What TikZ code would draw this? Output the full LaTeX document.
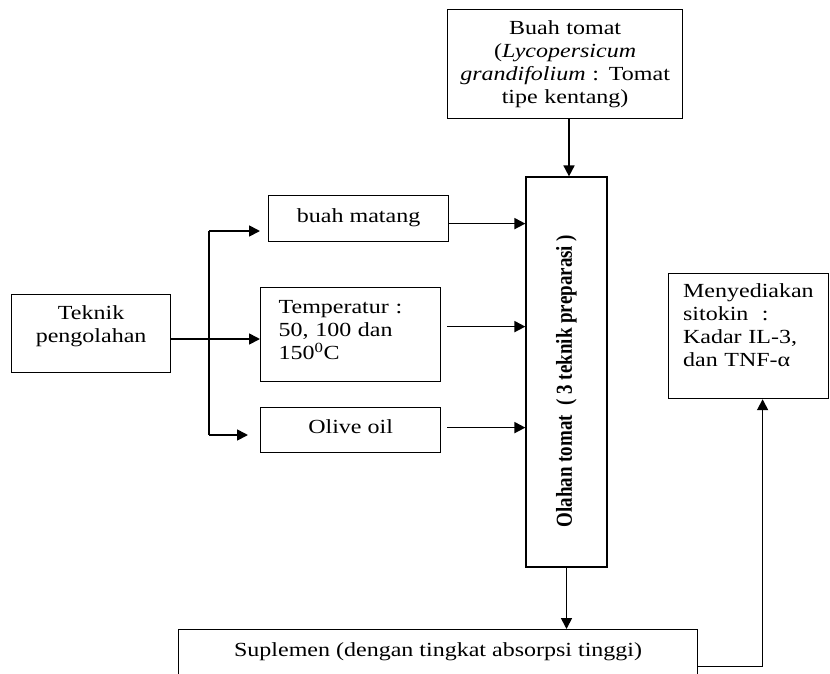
\documentclass[tikz,border=0pt]{standalone}
\usepackage{fontspec}
\setmainfont{Liberation Serif}[FakeStretch=1.2]
\newfontfamily\rotfont{Liberation Serif}
\usetikzlibrary{arrows.meta}

\begin{document}
\begin{tikzpicture}[x=1pt,y=-1pt,
    kotak/.style ={draw, line width=1.2pt, anchor=north west, inner ysep=0pt,
                   font=\fontsize{20}{23}\selectfont},
    panah/.style ={line width=1.7pt, -{Triangle[length=11pt,width=11pt]}}]
   \useasboundingbox (0,0) rectangle (830,673);
   % kotak-kotak
   \node[kotak, text width=225pt, inner xsep=5pt, align=center,
         text height=25pt, text depth=84pt] (tomat) at (447,9)
         {Buah tomat\\(\textit{Lycopersicum}\\\textit{grandifolium} : Tomat\\tipe kentang)};
   \node[kotak, anchor=center, minimum width=81pt, minimum height=390pt] (olahan) at (566.5,372)
         {\rotatebox{90}{\scalebox{1}[1.2]{\fontsize{19}{23}\rotfont\bfseries
          Olahan tomat~~( 3 teknik preparasi )\hspace*{18pt}}}};
   \node[kotak, minimum width=180pt, text height=27pt, text depth=19pt] (matang) at (268,195) {buah matang};
   \node[kotak, text width=144pt, inner xsep=18pt, align=left,
         text height=26pt, text depth=68pt] (temp) at (260,287)
         {Temperatur :\\50, 100 dan\\150\textsuperscript{0}C};
   \node[kotak, minimum width=180pt, text height=26pt, text depth=19pt] (olive) at (260,407) {Olive oil};
   \node[kotak, text width=149pt, inner xsep=5pt, align=center,
         text height=25pt, text depth=53pt] (teknik) at (11,294) {Teknik\\pengolahan};
   \node[kotak, text width=131pt, inner xsep=14.5pt, align=left,
         text height=24pt, text depth=101pt] (menye) at (668,273)
         {Menyediakan\\sitokin~ :\\Kadar IL-3,\\dan TNF-α};
   \node[kotak, minimum width=519pt, text height=27pt, text depth=47pt] (suplemen) at (178,629)
         {Suplemen (dengan tingkat absorpsi tinggi)};
   % cabang teknik pengolahan
   \coordinate (br) at (209,339);
   \coordinate (brA) at (209,231);
   \coordinate (brB) at (209,435);
   \draw[line width=1.7pt] (brA) -- (brB);
   \draw[panah] (teknik.east |- br) -- (temp.west |- br);
   \draw[panah, shorten >=8pt] (brA) -- (brA -| matang.west);
   \draw[panah, shorten >=12pt] (brB) -- (brB -| olive.west);
   % ke olahan tomat
   \draw[panah] ([xshift=2.5pt]olahan.north |- tomat.south) -- ([xshift=2.5pt]olahan.north);
   \draw[panah] ([yshift=-5pt]matang.east) -- ([yshift=-5pt]matang.east -| olahan.west);
   \draw[panah, shorten <=6pt] ([yshift=8pt]temp.east) -- ([yshift=8pt]temp.east -| olahan.west);
   \draw[panah, shorten <=6pt] ([yshift=2.5pt]olive.east) -- ([yshift=2.5pt]olive.east -| olahan.west);
   \draw[panah] (olahan.south) -- (olahan.south |- suplemen.north);
   \draw[panah] (suplemen.east) -| ([xshift=14pt]menye.south);
 \end{tikzpicture}
\end{document}
